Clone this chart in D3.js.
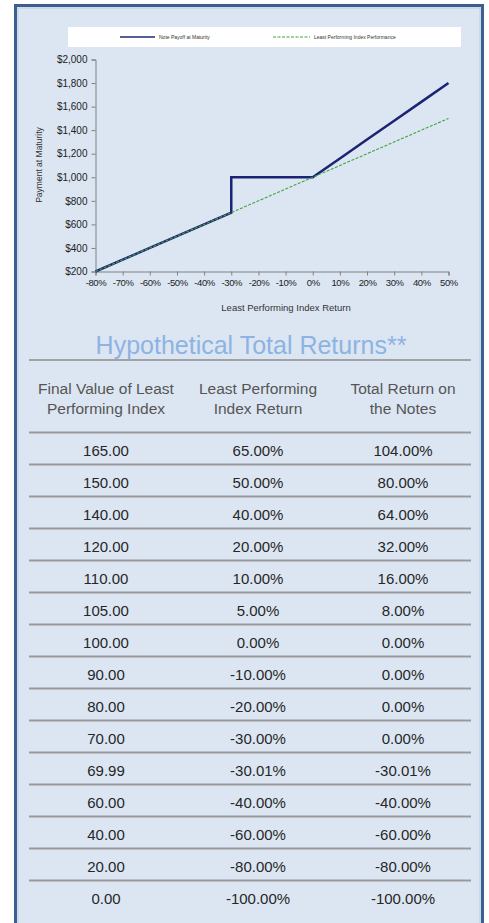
<!DOCTYPE html>
<html>
<head>
<meta charset="utf-8">
<script src="https://cdn.jsdelivr.net/npm/d3@7"></script>
<style>
  body { margin: 0; background: #fff; }
  svg { display: block; }
</style>
</head>
<body>
<svg id="chart" width="489" height="923"></svg>
<script>
// chart data
var returnPts = [-80, -70, -60, -50, -40, -30, -30, -20, -10, 0, 10, 20, 30, 40, 50];
var notePayoff = [200, 300, 400, 500, 600, 700, 1000, 1000, 1000, 1000, 1160, 1320, 1480, 1640, 1800];
var indexReturns = [-80, -70, -60, -50, -40, -30, -20, -10, 0, 10, 20, 30, 40, 50];
var indexPerf = [200, 300, 400, 500, 600, 700, 800, 900, 1000, 1100, 1200, 1300, 1400, 1500];
var seriesNames = ["Note Payoff at Maturity", "Least Performing Index Performance"];

// table data
var headers = [["Final Value of Least", "Performing Index"], ["Least Performing", "Index Return"], ["Total Return on", "the Notes"]];
var finalValues = ["165.00", "150.00", "140.00", "120.00", "110.00", "105.00", "100.00", "90.00", "80.00", "70.00", "69.99", "60.00", "40.00", "20.00", "0.00"];
var indexReturnCol = ["65.00%", "50.00%", "40.00%", "20.00%", "10.00%", "5.00%", "0.00%", "-10.00%", "-20.00%", "-30.00%", "-30.01%", "-40.00%", "-60.00%", "-80.00%", "-100.00%"];
var noteReturnCol = ["104.00%", "80.00%", "64.00%", "32.00%", "16.00%", "8.00%", "0.00%", "0.00%", "0.00%", "0.00%", "-30.01%", "-40.00%", "-60.00%", "-80.00%", "-100.00%"];

var svg = d3.select("#chart");

// panel background + frame
svg.append("rect").attr("x", 15.5).attr("y", 5.5).attr("width", 467).attr("height", 930)
    .attr("fill", "#dce6f2").attr("stroke", "#3c5f8e").attr("stroke-width", 3);
svg.append("rect").attr("x", 18).attr("y", 8).attr("width", 462).attr("height", 930)
    .attr("fill", "none").attr("stroke", "#b9cce4").attr("stroke-width", 1);

// legend
var leg = svg.append("g");
leg.append("rect").attr("x", 68).attr("y", 27).attr("width", 393).attr("height", 20).attr("fill", "#fff");
leg.append("line").attr("x1", 120).attr("x2", 155).attr("y1", 37).attr("y2", 37)
    .attr("stroke", "#1f2878").attr("stroke-width", 1.5);
leg.append("text").attr("x", 159).attr("y", 39).text(seriesNames[0])
    .attr("font-family", "Liberation Sans").attr("font-size", 5).attr("fill", "#333");
leg.append("line").attr("x1", 273).attr("x2", 310).attr("y1", 37).attr("y2", 37)
    .attr("stroke", "#3fa33a").attr("stroke-width", 1).attr("stroke-dasharray", "3,1.5");
leg.append("text").attr("x", 314).attr("y", 39).text(seriesNames[1])
    .attr("font-family", "Liberation Sans").attr("font-size", 5).attr("fill", "#333");

// scales
var x = d3.scaleLinear().domain([-80, 50]).range([95.5, 448.5]);
var y = d3.scaleLinear().domain([200, 2000]).range([271.5, 59.5]);

var axisColor = "#808080";
var yAxis = svg.append("g").attr("transform", "translate(95.5,0)")
    .call(d3.axisLeft(y).tickValues(d3.range(200, 2001, 200)).tickSize(4).tickPadding(4)
        .tickFormat(function(d) { return "$" + d3.format(",")(d); }));
var xAxis = svg.append("g").attr("transform", "translate(0,271.5)")
    .call(d3.axisBottom(x).tickValues(d3.range(-80, 51, 10)).tickSize(4).tickPadding(4)
        .tickFormat(function(d) { return d + "%"; }));
[xAxis, yAxis].forEach(function(a) {
  a.select(".domain").attr("stroke", axisColor);
  a.selectAll(".tick line").attr("stroke", axisColor);
  a.selectAll("text").attr("font-family", "Liberation Sans").attr("font-size", 10).attr("fill", "#222");
});
xAxis.selectAll("text").attr("font-size", 9.5).attr("letter-spacing", -0.4);

svg.append("text").attr("x", 286).attr("y", 311).attr("text-anchor", "middle")
    .attr("font-family", "Liberation Sans").attr("font-size", 9.5).attr("fill", "#333")
    .text("Least Performing Index Return");
svg.append("text").attr("transform", "translate(42,165) rotate(-90)").attr("text-anchor", "middle")
    .attr("font-family", "Liberation Sans").attr("font-size", 8.5).attr("fill", "#333")
    .text("Payment at Maturity");

// lines
var line = d3.line().x(function(d) { return x(d[0]); }).y(function(d) { return y(d[1]); });
svg.append("path").datum(d3.zip(returnPts, notePayoff)).attr("d", line)
    .attr("fill", "none").attr("stroke", "#1b2374").attr("stroke-width", 2.5);
svg.append("path").datum(d3.zip(indexReturns, indexPerf)).attr("d", line)
    .attr("fill", "none").attr("stroke", "#44a33c").attr("stroke-width", 1.1).attr("stroke-dasharray", "3,1.5");

// table
var colX = [106, 258, 403];
svg.append("text").attr("x", 251).attr("y", 354).attr("text-anchor", "middle")
    .attr("font-family", "Liberation Sans").attr("font-size", 25).attr("fill", "#8db3e2")
    .text("Hypothetical Total Returns**");
svg.append("line").attr("x1", 29).attr("x2", 471).attr("y1", 360).attr("y2", 360)
    .attr("stroke", "#8c8c8c").attr("stroke-width", 1.5);

headers.forEach(function(h, i) {
  h.forEach(function(t, j) {
    svg.append("text").attr("x", colX[i]).attr("y", 394 + j * 20).attr("text-anchor", "middle")
        .attr("font-family", "Liberation Sans").attr("font-size", 15.5).attr("fill", "#555").text(t);
  });
});

var rowTop = 432.5, rowH = 32;
var rows = d3.range(finalValues.length);
svg.append("g").selectAll("line").data(rows).join("line")
    .attr("x1", 29).attr("x2", 471)
    .attr("y1", function(d) { return rowTop + d * rowH; })
    .attr("y2", function(d) { return rowTop + d * rowH; })
    .attr("stroke", "#999").attr("stroke-width", 2);

[finalValues, indexReturnCol, noteReturnCol].forEach(function(col, i) {
  svg.append("g").selectAll("text").data(col).join("text")
      .attr("x", colX[i])
      .attr("y", function(d, k) { return rowTop + k * rowH + 23; })
      .attr("text-anchor", "middle")
      .attr("font-family", "Liberation Sans").attr("font-size", 15).attr("fill", "#262626")
      .text(function(d) { return d; });
});
</script>
</body>
</html>
